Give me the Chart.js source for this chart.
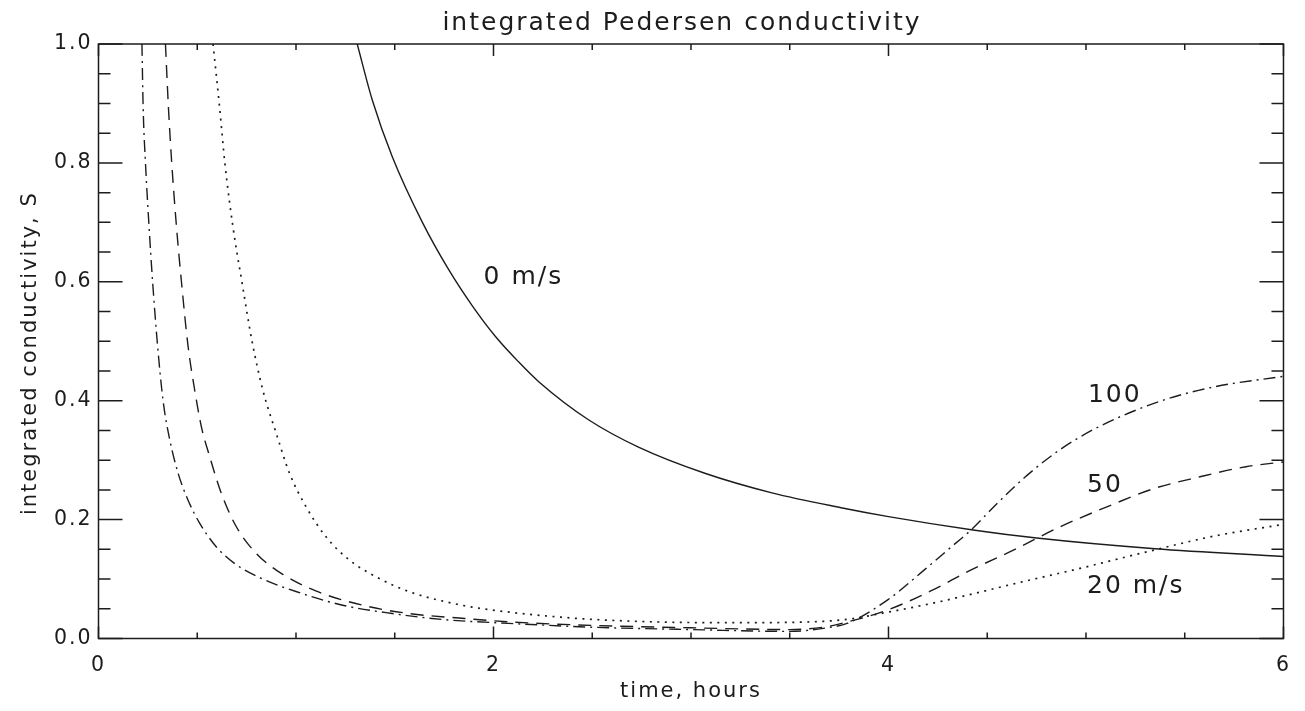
<!DOCTYPE html>
<html>
<head>
<meta charset="utf-8">
<title>integrated Pedersen conductivity</title>
<script src="https://cdn.jsdelivr.net/npm/chart.js@4.4.1/dist/chart.umd.min.js"></script>
<style>
  html, body { margin: 0; padding: 0; background: #fff; }
  canvas { display: block; }
</style>
</head>
<body>
<canvas id="conductivityChart" width="1305" height="711"></canvas>
<script>
// integrated Pedersen conductivity (S) against time (hours), one curve per wind speed

// 0 m/s
const hours0 = [1.31, 1.387, 1.488, 1.64, 1.774, 1.892, 2.01, 2.128, 2.229, 2.481, 2.734, 3.07, 3.41, 3.76, 4.0, 4.42, 4.75, 5.35, 6.0];
const sigma0 = [1.0, 0.905, 0.81, 0.70, 0.62, 0.56, 0.508, 0.465, 0.432, 0.368, 0.322, 0.278, 0.245, 0.220, 0.205, 0.183, 0.169, 0.151, 0.138];

// 20 m/s
const hours20 = [0.580, 0.613, 0.640, 0.681, 0.726, 0.778, 0.832, 0.90, 0.967, 1.051, 1.152, 1.27, 1.404, 1.572, 1.825, 2.015, 2.414, 2.814, 3.213, 3.612, 3.81, 3.96, 4.147, 4.30, 4.635, 4.97, 5.31, 5.645, 6.0];
const sigma20 = [1.0, 0.894, 0.799, 0.692, 0.600, 0.499, 0.418, 0.345, 0.278, 0.2215, 0.171, 0.132, 0.104, 0.079, 0.057, 0.047, 0.034, 0.028, 0.0266, 0.028, 0.033, 0.042, 0.054, 0.065, 0.092, 0.118, 0.146, 0.172, 0.192];

// 50 m/s
const hours50 = [0.339, 0.354, 0.371, 0.395, 0.420, 0.453, 0.487, 0.521, 0.563, 0.622, 0.698, 0.799, 0.933, 1.10, 1.337, 1.572, 1.841, 2.077, 2.5, 3.0, 3.5, 3.67, 3.794, 3.996, 4.214, 4.416, 4.635, 4.87, 5.106, 5.342, 5.577, 5.81, 6.0];
const sigma50 = [1.0, 0.894, 0.799, 0.692, 0.600, 0.493, 0.418, 0.356, 0.306, 0.244, 0.188, 0.143, 0.108, 0.080, 0.056, 0.042, 0.034, 0.028, 0.022, 0.018, 0.015, 0.019, 0.028, 0.048, 0.080, 0.115, 0.149, 0.188, 0.2215, 0.252, 0.272, 0.289, 0.297];

// 100 m/s
const hours100 = [0.220, 0.226, 0.238, 0.255, 0.274, 0.299, 0.327, 0.361, 0.403, 0.453, 0.512, 0.597, 0.698, 0.832, 1.0, 1.236, 1.488, 1.741, 2.077, 2.5, 3.0, 3.5, 3.67, 3.794, 3.996, 4.18, 4.30, 4.416, 4.55, 4.70, 4.87, 5.07, 5.375, 5.645, 6.0];
const sigma100 = [1.0, 0.894, 0.799, 0.698, 0.600, 0.493, 0.400, 0.334, 0.278, 0.233, 0.194, 0.154, 0.124, 0.100, 0.079, 0.056, 0.042, 0.032, 0.0255, 0.019, 0.015, 0.012, 0.017, 0.026, 0.065, 0.115, 0.149, 0.182, 0.227, 0.274, 0.318, 0.357, 0.399, 0.423, 0.441];

// axis tick marks (majors are labelled)
const xTickHours = [0, 0.5, 1, 1.5, 2, 2.5, 3, 3.5, 4, 4.5, 5, 5.5, 6];
const xMajorHours = [0, 2, 4, 6];
const yTickValues = [0, 0.05, 0.1, 0.15, 0.2, 0.25, 0.3, 0.35, 0.4, 0.45, 0.5, 0.55, 0.6, 0.65, 0.7, 0.75, 0.8, 0.85, 0.9, 0.95, 1.0];
const yMajorValues = [0, 0.2, 0.4, 0.6, 0.8, 1.0];

// in-plot curve labels: text, hour, conductivity at the text baseline
const curveLabels = [
    { text: '0 m/s', x: 1.95, y: 0.597 },
    { text: '100', x: 5.01, y: 0.398 },
    { text: '50', x: 5.005, y: 0.247 },
    { text: '20 m/s', x: 5.005, y: 0.077 }
];

const TITLE = 'integrated Pedersen conductivity';
const Y_TITLE = 'integrated conductivity, S';

const INK = '#1c1c1c';
const FONT = "'DejaVu Sans', sans-serif";

function toPoints(hours, values) {
    return hours.map((t, i) => ({ x: t, y: values[i] }));
}

function lineStyle(dash, width) {
    return {
        borderColor: INK,
        borderWidth: width || 1.4,
        borderDash: dash,
        pointRadius: 0,
        fill: false,
        cubicInterpolationMode: 'monotone'
    };
}

// letter-spaced text, closer to a stroke font
const textSpacing = {
    id: 'textSpacing',
    beforeDraw(chart) {
        chart.ctx.letterSpacing = '2px';
    }
};

// box frame with inward ticks on all four sides, plus titles and curve labels
const frameTicks = {
    id: 'frameTicks',
    afterDraw(chart) {
        const { ctx, chartArea: a, scales: { x, y } } = chart;
        ctx.save();
        ctx.strokeStyle = INK;
        ctx.lineWidth = 1.5;
        ctx.setLineDash([]);
        ctx.strokeRect(a.left, a.top, a.right - a.left, a.bottom - a.top);

        ctx.beginPath();
        xTickHours.forEach(t => {
            const px = x.getPixelForValue(t);
            const len = xMajorHours.includes(t) ? 12 : 6;
            ctx.moveTo(px, a.bottom);
            ctx.lineTo(px, a.bottom - len);
            ctx.moveTo(px, a.top);
            ctx.lineTo(px, a.top + len);
        });
        yTickValues.forEach(v => {
            const py = y.getPixelForValue(v);
            const len = yMajorValues.includes(v) ? 24 : 12;
            ctx.moveTo(a.left, py);
            ctx.lineTo(a.left + len, py);
            ctx.moveTo(a.right, py);
            ctx.lineTo(a.right - len, py);
        });
        ctx.stroke();

        ctx.fillStyle = INK;
        ctx.letterSpacing = '2px';

        // plot title
        ctx.font = '25px ' + FONT;
        ctx.textAlign = 'center';
        ctx.textBaseline = 'alphabetic';
        ctx.fillText(TITLE, (a.left + a.right) / 2 - 9, 30);

        // y axis title, rotated
        ctx.save();
        ctx.font = '21px ' + FONT;
        ctx.translate(36, y.getPixelForValue(0.48));
        ctx.rotate(-Math.PI / 2);
        ctx.fillText(Y_TITLE, 0, 0);
        ctx.restore();

        // curve labels
        ctx.font = '25px ' + FONT;
        ctx.textAlign = 'left';
        curveLabels.forEach(l => {
            ctx.fillText(l.text, x.getPixelForValue(l.x), y.getPixelForValue(l.y));
        });
        ctx.restore();
    }
};

const ctx = document.getElementById('conductivityChart');

new Chart(ctx, {
    type: 'line',
    data: {
        datasets: [
            { label: '0 m/s', data: toPoints(hours0, sigma0), ...lineStyle([]) },
            { label: '20 m/s', data: toPoints(hours20, sigma20), ...lineStyle([2, 5.5], 1.7) },
            { label: '50 m/s', data: toPoints(hours50, sigma50), ...lineStyle([13, 8]) },
            { label: '100 m/s', data: toPoints(hours100, sigma100), ...lineStyle([12, 5, 2, 5]) }
        ]
    },
    options: {
        responsive: false,
        animation: false,
        layout: {
            padding: { top: 44, right: 18, bottom: 0, left: 0 }
        },
        plugins: {
            legend: { display: false },
            tooltip: { enabled: false },
            title: { display: false }
        },
        scales: {
            x: {
                type: 'linear',
                min: 0,
                max: 6,
                grid: { display: false, drawTicks: false },
                border: { display: false },
                ticks: {
                    stepSize: 2,
                    padding: 15,
                    color: INK,
                    font: { family: FONT, size: 20.5 },
                    maxRotation: 0
                },
                title: {
                    display: true,
                    text: 'time, hours',
                    color: INK,
                    font: { family: FONT, size: 21, lineHeight: 1.2 },
                    padding: { top: 0, bottom: 7 }
                },
                afterFit(scale) {
                    scale.height = 72.5;
                }
            },
            y: {
                type: 'linear',
                min: 0,
                max: 1,
                grid: { display: false, drawTicks: false },
                border: { display: false },
                ticks: {
                    stepSize: 0.2,
                    padding: 6,
                    color: INK,
                    font: { family: FONT, size: 20.5 },
                    callback: v => v.toFixed(1)
                },
                afterFit(scale) {
                    scale.width = 98.5;
                }
            }
        }
    },
    plugins: [textSpacing, frameTicks]
});
</script>
</body>
</html>
